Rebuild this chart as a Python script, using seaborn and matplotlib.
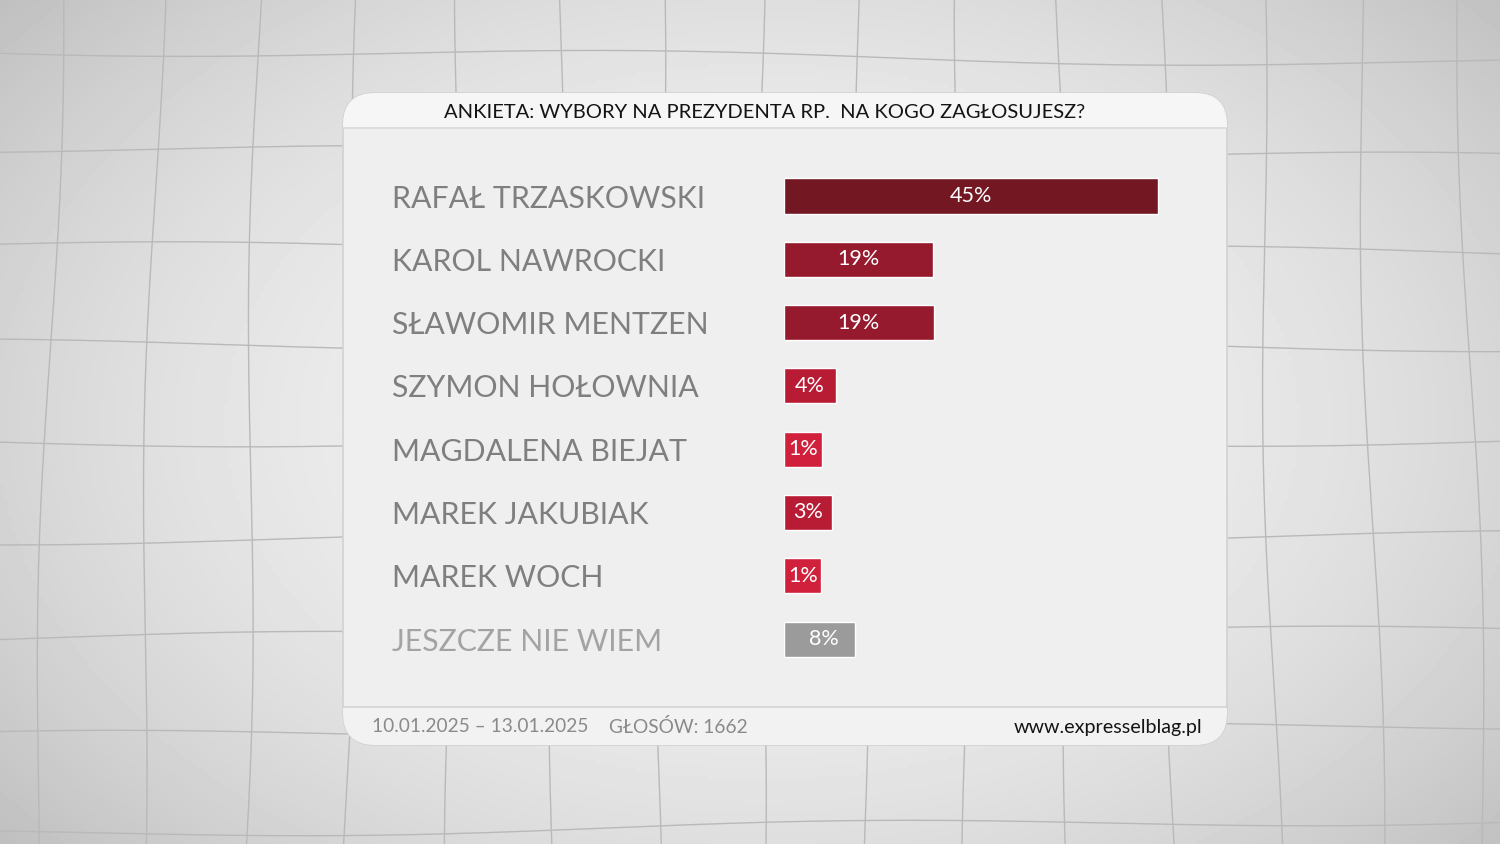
import numpy as np
import pandas as pd
import matplotlib
matplotlib.use("Agg")
import matplotlib.pyplot as plt
from matplotlib.patches import FancyBboxPatch, Rectangle
import seaborn as sns

# dane ankiety
names = ["RAFAŁ TRZASKOWSKI", "KAROL NAWROCKI", "SŁAWOMIR MENTZEN", "SZYMON HOŁOWNIA",
         "MAGDALENA BIEJAT", "MAREK JAKUBIAK", "MAREK WOCH", "JESZCZE NIE WIEM"]
shares = [45, 19, 19, 4, 1, 3, 1, 8]
# długości pasków tak jak na grafice (nie są w skali dla małych wartości)
bar_len = [45, 17.9, 18.0, 6.3, 4.6, 5.8, 4.5, 8.5]
bar_colors = ["#731823", "#951a2e", "#951a2e", "#b81c35",
              "#d0203c", "#b81c35", "#d0203c", "#9b9b9b"]

title = "ANKIETA: WYBORY NA PREZYDENTA RP.  NA KOGO ZAGŁOSUJESZ?"
date_range = "10.01.2025 – 13.01.2025"
votes = "GŁOSÓW: 1662"
site = "www.expresselblag.pl"

df = pd.DataFrame({"name": names, "share": shares, "len": bar_len})

sns.set_theme(style="white")
plt.rcParams["font.family"] = ["Lato", "DejaVu Sans"]

W, H = 1500, 844
fig = plt.figure(figsize=(15, 8.44), dpi=100)

# tło z winietą i falistą siatką
bg = fig.add_axes([0, 0, 1, 1])
bg.set_xlim(0, W)
bg.set_ylim(H, 0)
bg.axis("off")
yy, xx = np.mgrid[0:H:4, 0:W:4]
r = np.sqrt(((xx - 760) / 900) ** 2 + ((yy - 420) / 600) ** 2)
shade = np.clip(0.955 - 0.17 * r ** 2, 0, 1)
bg.imshow(shade, cmap="gray", vmin=0, vmax=1, extent=(0, W, H, 0), aspect="auto", zorder=0)
t = np.linspace(0, H, 200)
for x0 in np.arange(60, W + 100, 100):
    bend = (x0 - 750) / 750
    bg.plot(x0 + 25 * bend * (t / H) + 6 * np.sin(t / 140 + x0 / 90), t,
            color="#b9b9b9", lw=1, zorder=1)
s = np.linspace(0, W, 300)
for y0 in np.arange(50, H + 100, 98):
    bend = (y0 - 420) / 420
    bg.plot(s, y0 - 15 * bend * (s / W) + 5 * np.sin(s / 160 + y0 / 70),
            color="#b9b9b9", lw=1, zorder=1)

# panel
panel = FancyBboxPatch((343, 93), 884, 652, boxstyle="round,pad=0,rounding_size=32",
                       facecolor="#efefef", edgecolor="#d2d2d2", lw=1.2, zorder=2)
bg.add_patch(panel)
head = Rectangle((343, 93), 884, 35, facecolor="#f6f6f6", edgecolor="none", zorder=3)
head.set_clip_path(panel)
bg.add_patch(head)
foot = Rectangle((343, 707), 884, 38, facecolor="#f2f2f2", edgecolor="none", zorder=3)
foot.set_clip_path(panel)
bg.add_patch(foot)
bg.plot([343, 1227], [128, 128], color="#dadada", lw=1.2, zorder=4)
bg.plot([343, 1227], [707, 707], color="#d3d3d3", lw=1.2, zorder=4)

fig.text(765 / W, 1 - 112 / H, title, ha="center", va="center",
         fontsize=14.5, color="#141414")
fig.text(372 / W, 1 - 727 / H, date_range, ha="left", va="center",
         fontsize=13.8, color="#8a8a8a")
fig.text(609 / W, 1 - 727 / H, votes, ha="left", va="center",
         fontsize=13.8, color="#8a8a8a")
fig.text(1202 / W, 1 - 727 / H, site, ha="right", va="center",
         fontsize=14.2, color="#141414")

# wykres słupkowy
px_per_unit = 374 / 45
left_px, right_px = 784, 1200
row_px = 63.3
top_px = 196 - row_px / 2
ax = fig.add_axes([left_px / W, 1 - (top_px + 8 * row_px) / H,
                   (right_px - left_px) / W, 8 * row_px / H])
ax.patch.set_alpha(0)
sns.barplot(data=df, y="name", x="len", hue="name", palette=bar_colors,
            legend=False, orient="h", width=0.555, saturation=1, ax=ax)
ax.set_xlim(0, (right_px - left_px) / px_per_unit)
ax.set_ylim(7.5, -0.5)
ax.set_xlabel("")
ax.set_ylabel("")
ax.set_xticks([])
sns.despine(ax=ax, left=True, bottom=True)

pad_pt = (left_px - 392) * 72 / 100
ax.tick_params(axis="y", length=0, pad=pad_pt)
for i, lab in enumerate(ax.get_yticklabels()):
    lab.set_ha("left")
    lab.set_fontsize(21.8)
    lab.set_color("#a3a3a3" if i == len(names) - 1 else "#7f7f7f")

for i, (v, L) in enumerate(zip(shares, bar_len)):
    xc = L / 2 + (0.6 if i == len(names) - 1 else 0)
    ax.text(xc, i, f"{v}%", ha="center", va="center", color="white", fontsize=15.5)

fig.savefig("out.png", dpi=100)
